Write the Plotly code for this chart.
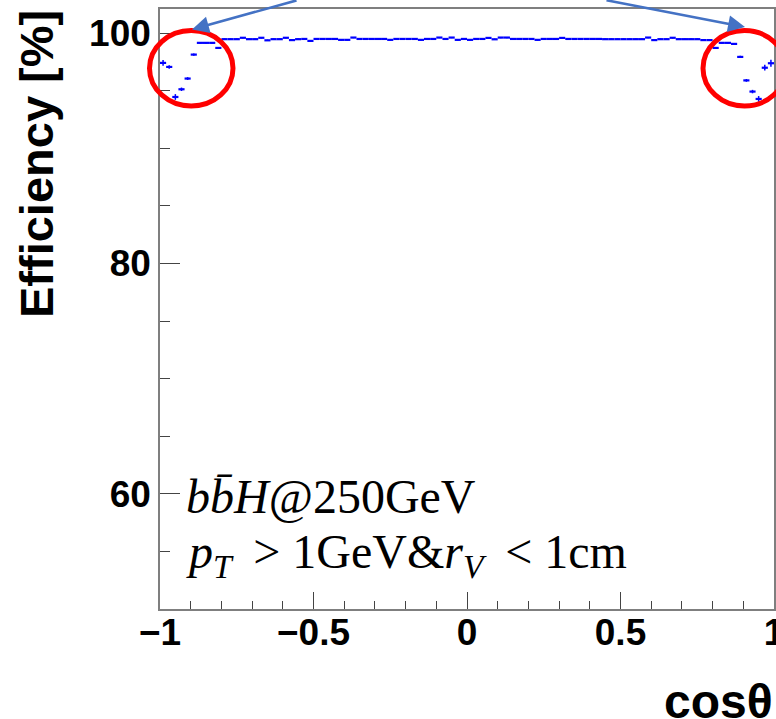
import numpy as np
import plotly.graph_objects as go

# ---- data ----
bin_width = 0.02
cos_bins = np.round(np.arange(-0.99, 1.0, bin_width), 2)

efficiency = [
    97.42, 97.07, 94.46, 95.13, 96.06, 98.14, 99.16, 99.16, 99.16, 98.72,
    99.48, 99.48, 99.48, 99.60, 99.48, 99.48, 99.60, 99.38, 99.48, 99.48,
    99.60, 99.40, 99.48,
    99.50, 99.33, 99.50, 99.50, 99.50, 99.50, 99.42, 99.42, 99.62, 99.50,
    99.50, 99.50, 99.50, 99.50, 99.42, 99.50, 99.50, 99.50, 99.50, 99.42,
    99.50, 99.50, 99.62, 99.50, 99.62, 99.42, 99.50, 99.42, 99.50, 99.50,
    99.59, 99.47, 99.62, 99.62, 99.50, 99.50, 99.50, 99.50, 99.42, 99.50,
    99.50, 99.50, 99.59, 99.50, 99.50, 99.50, 99.50, 99.50, 99.50,
    99.48, 99.48, 99.48, 99.48, 99.48, 99.48, 99.48, 99.62, 99.40, 99.48,
    99.48, 99.60, 99.48, 99.48, 99.48, 99.48, 99.40, 99.40,
    98.72, 99.16, 99.16, 99.07, 97.94, 95.90, 94.93, 94.29, 97.00, 97.39,
]

eff_err = [0.05] * 100
for i, e in {0: 0.25, 1: 0.15, 2: 0.25, 3: 0.15, 4: 0.12, 5: 0.10,
             94: 0.10, 95: 0.12, 96: 0.15, 97: 0.25, 98: 0.25, 99: 0.30}.items():
    eff_err[i] = e

x_tickvals = [-1, -0.5, 0, 0.5, 1]
x_ticktext = ["\u22121", "\u22120.5", "0", "0.5", "1"]
y_tickvals = [60, 80, 100]
y_ticktext = ["60", "80", "100"]

# ---- layout geometry (pixels) ----
W, H = 776, 719
ML, MR, MT, MB = 160, 2, 9, 110
PW, PH = W - ML - MR, H - MT - MB


def px2paper_x(px):
    return (px - ML) / PW


def px2paper_y(py):
    return (H - MB - py) / PH


BLUE = "#0000ff"
GRAY = "#7f7f7f"
SANS = "Liberation Sans, Arial, sans-serif"
SERIF = "Liberation Serif, Times New Roman, serif"

fig = go.Figure()
fig.add_trace(go.Scatter(
    x=cos_bins, y=efficiency, mode="markers",
    marker=dict(size=1, color=BLUE),
    error_x=dict(type="constant", value=bin_width / 2, thickness=2.2, width=0, color=BLUE),
    error_y=dict(type="data", array=eff_err, thickness=1.5, width=0, color=BLUE),
    showlegend=False, hoverinfo="skip",
))

fig.update_layout(
    width=W, height=H,
    margin=dict(l=ML, r=MR, t=MT, b=MB, pad=0, autoexpand=False),
    paper_bgcolor="white", plot_bgcolor="white",
    showlegend=False,
)

fig.update_xaxes(
    range=[-1, 1], showgrid=False, zeroline=False,
    showline=True, linecolor=GRAY, linewidth=1.5, mirror=True,
    ticks="inside", ticklen=17, tickwidth=1.2, tickcolor="#444",
    tickvals=x_tickvals, ticktext=x_ticktext,
    ticklabeloverflow="allow", ticklabelstandoff=-10, automargin=False,
    tickfont=dict(family=SANS, size=37, color="black", weight="bold"),
    minor=dict(ticks="inside", ticklen=8, tickwidth=1.2, tickcolor="#444", dtick=0.1, showgrid=False),
)
fig.update_yaxes(
    range=[50, 102.1], showgrid=False, zeroline=False,
    showline=True, linecolor=GRAY, linewidth=1.5, mirror=True,
    ticks="inside", ticklen=20, tickwidth=1.2, tickcolor="#444",
    tickvals=y_tickvals, ticktext=y_ticktext,
    ticklabeloverflow="allow", automargin=False,
    tickfont=dict(family=SANS, size=37, color="black", weight="bold"),
    minor=dict(ticks="inside", ticklen=10, tickwidth=1.2, tickcolor="#444", dtick=5, showgrid=False),
)

annotations = [
    # y title
    dict(text="Efficiency [%]", textangle=-90, xref="paper", yref="paper",
         x=px2paper_x(37), y=px2paper_y(164), xanchor="center", yanchor="middle",
         showarrow=False, font=dict(family=SANS, size=47, color="black", weight="bold")),
    # x title
    dict(text="cos\u03b8", xref="paper", yref="paper",
         x=px2paper_x(775), y=px2paper_y(701), xanchor="right", yanchor="middle",
         showarrow=False, font=dict(family=SANS, size=48, color="black", weight="bold")),
    # physics labels
    dict(text="<i>b</i><i>b\u0304</i><i>H</i>@250GeV", xref="paper", yref="paper",
         x=px2paper_x(184), y=px2paper_y(496), xanchor="left", yanchor="middle",
         showarrow=False, font=dict(family=SERIF, size=48, color="black")),
    dict(text="<i>p</i><sub><i>T</i></sub> \u2009&gt; 1GeV&amp;<i>r</i><sub><i>V</i></sub> \u2009&lt; 1cm",
         xref="paper", yref="paper",
         x=px2paper_x(184), y=px2paper_y(555), xanchor="left", yanchor="middle",
         showarrow=False, font=dict(family=SERIF, size=48, color="black")),
    # arrows (tails on the top edge of the picture)
    dict(text="", xref="paper", yref="paper", x=px2paper_x(192), y=px2paper_y(29.5),
         ax=106, ay=-29.5, axref="pixel", ayref="pixel", showarrow=True,
         arrowhead=2, arrowsize=1.3, arrowwidth=2.6, arrowcolor="#4472C4"),
    dict(text="", xref="paper", yref="paper", x=px2paper_x(745), y=px2paper_y(27),
         ax=-140, ay=-27, axref="pixel", ayref="pixel", showarrow=True,
         arrowhead=2, arrowsize=1.3, arrowwidth=2.6, arrowcolor="#4472C4"),
]
fig.update_layout(annotations=annotations)

shapes = [
    dict(type="circle", xref="paper", yref="paper",
         x0=px2paper_x(149.5), x1=px2paper_x(233), y0=px2paper_y(106), y1=px2paper_y(30.5),
         line=dict(color="#ff0000", width=5)),
    dict(type="circle", xref="paper", yref="paper",
         x0=px2paper_x(703), x1=px2paper_x(786), y0=px2paper_y(106), y1=px2paper_y(30.5),
         line=dict(color="#ff0000", width=5)),
]
fig.update_layout(shapes=shapes)

fig.write_html("out.html")
